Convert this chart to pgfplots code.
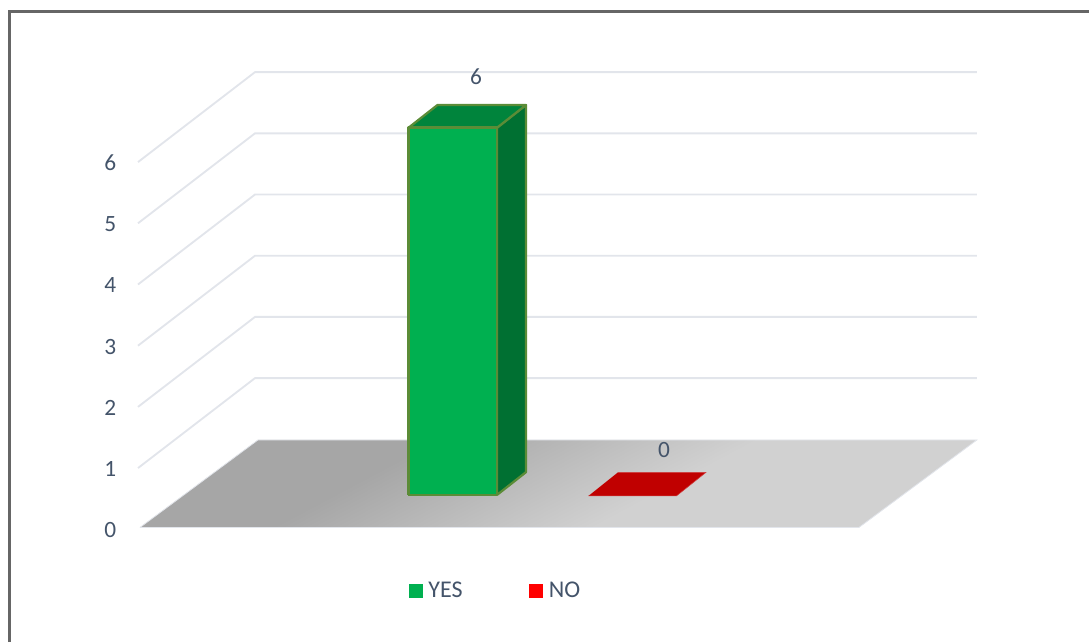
\documentclass[border=0pt]{standalone}
\usepackage{fontspec}
\setmainfont{Carlito}
\usepackage{pgfplots}
\pgfplotsset{compat=1.18}
\usepackage{pgfplotstable}

\definecolor{txt}{HTML}{44546A}
\definecolor{gridc}{HTML}{E2E5EB}
\definecolor{framec}{HTML}{666666}
\definecolor{yesfront}{HTML}{00B050}
\definecolor{yesside}{HTML}{007032}
\definecolor{yestop}{HTML}{00843C}
\definecolor{yesedge}{HTML}{5B8C37}
\definecolor{notop}{HTML}{C00000}
\definecolor{nolegend}{HTML}{FF0000}

% Floor shading: dark on the left, easing into light grey toward the middle
\pgfdeclarehorizontalshading{floorshade}{100bp}{
  color(0bp)=(black!35);
  color(36bp)=(black!35);
  color(58bp)=(black!18);
  color(100bp)=(black!18)}

% Faces of the box: d is depth (0 front, 1 back), v is the height in chart units
\pgfplotstableread{
x d v
408.5 0 0
497 0 0
497 0 6
408.5 0 6
408.5 0 0
}\yesfront
\pgfplotstableread{
x d v
497 0 0
497 1 0
497 1 6
497 0 6
497 0 0
}\yesside
\pgfplotstableread{
x d v
408.5 0 6
497 0 6
497 1 6
408.5 1 6
408.5 0 6
}\yestop
\pgfplotstableread{
x d v
588.5 0 0
676.5 0 0
676.5 1 0
588.5 1 0
}\notopface
\pgfplotstableread{
x y m
476 7.36 6
664 1.27 0
}\valuelabels

\begin{document}
\begin{tikzpicture}[x=1pt,y=1pt]
\begin{axis}[
  scale only axis,
  width=628.5pt, height=341.5pt,
  xmin=139, xmax=977, ymin=0, ymax=7.44,
  clip=false,
  axis line style={draw=none},
  major tick length=0pt,
  xtick=\empty,
  ytick={0,1,2,3,4,5,6},
  /pgf/number format/assume math mode=true,
  tick label style={font=\fontsize{17.5}{19}\selectfont, text=txt},
  yticklabel style={xshift=-13.5pt, yshift=-2pt},
  legend style={draw=none, fill=none, at={(0.3222,-0.1395)}, anchor=west,
    font=\fontsize{18}{20}\selectfont, text=txt, inner sep=0pt, outer sep=0pt,
    /tikz/every even column/.append style={column sep=48pt}},
  legend columns=2,
  legend cell align=left,
]
  % Page extent and the frame's two visible sides
  \path (axis cs:0,-1.887) rectangle (axis cs:1090,8.619);
  \draw[framec, line width=1.6pt]
    (axis cs:9.5,-1.875) -- (axis cs:9.5,8.43) -- (axis cs:1089,8.43);

  % Gridlines on the side wall and the back wall
  \foreach \v in {1,...,6} {
    \pgfmathsetmacro{\fy}{\v-0.03}
    \pgfmathsetmacro{\by}{\v+1.44}
    \edef\tmp{\noexpand\addplot[gridc, line width=1.4pt, forget plot]
      coordinates {(138,\fy) (255,\by) (977,\by)};}
    \tmp
  }

  % Floor
  \addplot[draw=gridc, line width=0.6pt, shading=floorshade, shading angle=-62, forget plot]
    coordinates {(140,0) (859,0) (977,1.43) (258,1.43) (140,0)};

  % YES box: value 6
  \addplot[fill=yesside, draw=yesedge, line width=1.7pt, line join=round, forget plot]
    table[x expr=\thisrow{x}+29*\thisrow{d}, y expr=\thisrow{v}+0.531+0.372*\thisrow{d}] {\yesside};
  \addplot[fill=yestop, draw=yesedge, line width=1.7pt, line join=round, forget plot]
    table[x expr=\thisrow{x}+29*\thisrow{d}, y expr=\thisrow{v}+0.531+0.372*\thisrow{d}] {\yestop};
  \addplot[fill=yesfront, draw=yesedge, line width=2pt, line join=round, forget plot]
    table[x expr=\thisrow{x}, y expr=\thisrow{v}+0.531] {\yesfront};

  % NO box: value 0, only its lid shows
  \addplot[fill=notop, draw=notop!75!white, line width=0.4pt, forget plot]
    table[x expr=\thisrow{x}+29.5*\thisrow{d}, y expr=\thisrow{v}+0.515+0.385*\thisrow{d}] {\notopface};

  % Value labels
  \addplot[draw=none, mark=none, forget plot, point meta=explicit,
    nodes near coords,
    every node near coord/.append style={anchor=center, text=txt,
      font=\fontsize{17.5}{19}\selectfont}]
    table[x=x, y=y, meta=m] {\valuelabels};

  % Legend
  \addlegendimage{area legend, draw=none, fill=yesfront,
    legend image code/.code={\fill[yesfront] (0pt,-5.2pt) rectangle (10.6pt,5.4pt);}}
  \addlegendentry{\hspace{2pt}YES}
  \addlegendimage{area legend, draw=none, fill=nolegend,
    legend image code/.code={\fill[nolegend] (0pt,-5.2pt) rectangle (10.6pt,5.4pt);}}
  \addlegendentry{\hspace{2pt}NO}
\end{axis}
\end{tikzpicture}
\end{document}
